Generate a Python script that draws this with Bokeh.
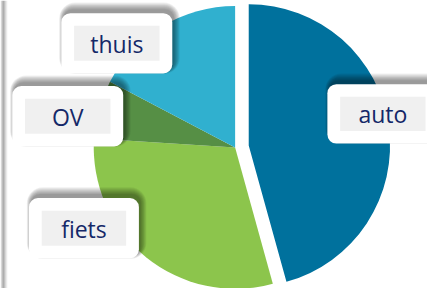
import numpy as np
from bokeh.plotting import figure
from bokeh.models import Range1d, ColumnDataSource
from bokeh.core.properties import value
from bokeh.embed import file_html
from bokeh.resources import INLINE

# ---- data ----
categories = ["auto", "fiets", "OV", "thuis"]
shares = [45.7, 30.3, 6.7, 17.3]
colors = ["#00719D", "#8CC54C", "#568F45", "#30B0CF"]

# ---- layout (pixel coordinates of the 435x296 reference) ----
W, H = 427, 288
CX, CY, R = 239, 151, 144
EXPLODE = {"auto": 14}
label_boxes = {
    "thuis": (62, 13, 175, 75),
    "OV": (12, 88, 125, 150),
    "auto": (333, 86, 450, 147),
    "fiets": (29, 203, 141, 265),
}
INSET = 13
TEXT_COLOR = "#142868"

def Y(py):
    return 296 - py

p = figure(width=W, height=H, output_backend="svg", toolbar_location=None,
           x_range=Range1d(0, 435), y_range=Range1d(0, 296),
           min_border=0, outline_line_color=None, background_fill_color="white")
p.axis.visible = False
p.grid.visible = False

# left gray edge
for x0, x1, a in [(0, 1, 0.10), (1, 2, 0.22), (2, 4, 0.32), (4, 5, 0.22), (5, 6, 0.13), (6, 7, 0.06)]:
    p.quad(left=x0, right=x1, top=296, bottom=0, fill_color="black", fill_alpha=a, line_color=None)

total = sum(shares)
fr = np.array(shares) / total
cum = np.concatenate([[0], np.cumsum(fr)])
starts = np.pi / 2 - 2 * np.pi * cum[:-1]
ends = np.pi / 2 - 2 * np.pi * cum[1:]
mids = (starts + ends) / 2
xs, ys = [], []
for c, m in zip(categories, mids):
    e = EXPLODE.get(c, 0)
    xs.append(CX + e * np.cos(m))
    ys.append(Y(CY) + e * np.sin(m))

src = ColumnDataSource(dict(x=xs, y=ys, start=starts, end=ends, color=colors, cat=categories))
p.wedge(x="x", y="y", radius=R, start_angle="start", end_angle="end",
        direction="clock", fill_color="color", line_color=None, source=src)

# soft shadows (offset upward)
for c in categories:
    l, t, r, b = label_boxes[c]
    for k in range(8):
        p.quad(left=l + 2 - k * 0.6, right=r + 2 + k * 0.8, top=Y(t - 4 - k), bottom=Y(b - 3 + k * 0.5),
               fill_color="black", fill_alpha=0.06, line_color=None, border_radius=9 + k)

# boxes
for c in categories:
    l, t, r, b = label_boxes[c]
    p.quad(left=l, right=r, top=Y(t), bottom=Y(b), fill_color="white",
           line_color=None, border_radius=9)
    il, it, ir, ib = l + INSET, t + INSET, r - INSET, b - INSET
    if c == "auto":
        ir = il + 87
    p.quad(left=il, right=ir, top=Y(it), bottom=Y(ib), fill_color="#F0F0F0", line_color=None)
    p.text(x=[(il + ir) / 2], y=[Y((it + ib) / 2) - 0.5], text=[c], text_align="center",
           text_baseline="middle", text_font=value("Open Sans"), text_font_size="23px",
           text_color=TEXT_COLOR)

open("out.html", "w").write(file_html(p, INLINE))
